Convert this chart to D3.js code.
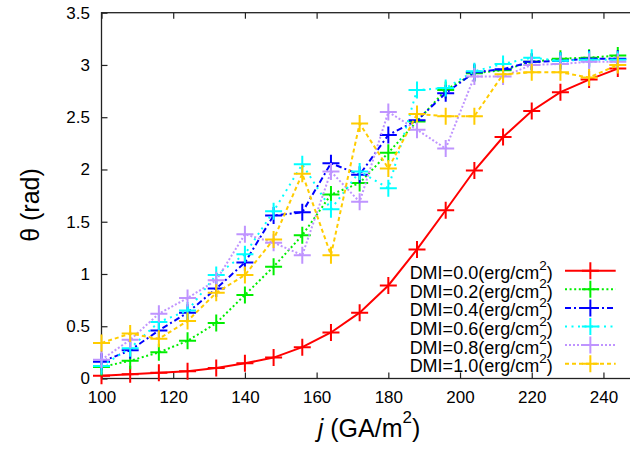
<!DOCTYPE html>
<html>
<head>
<meta charset="utf-8">
<script src="https://cdn.jsdelivr.net/npm/d3@7"></script>
<style>
  html, body { margin: 0; padding: 0; background: #fff; }
  svg { display: block; font-family: "Liberation Sans", Arial, Helvetica, sans-serif; }
</style>
</head>
<body>
<svg id="chart" width="630" height="450"></svg>
<script>
'use strict';

// current density j (GA/m^2)
var jValues = [100, 108, 116, 124, 132, 140, 148, 156, 164, 172, 180, 188, 196, 204, 212, 220, 228, 236, 244];

// theta (rad) for each DMI value
var dmi00 = [0.027, 0.04, 0.055, 0.07, 0.10, 0.145, 0.20, 0.30, 0.44, 0.63, 0.89, 1.235, 1.61, 1.99, 2.31, 2.56, 2.74, 2.86, 2.965];
var dmi02 = [0.11, 0.17, 0.25, 0.36, 0.53, 0.80, 1.07, 1.37, 1.76, 1.87, 2.16, 2.46, 2.76, 2.92, 2.95, 3.03, 3.06, 3.07, 3.09];
var dmi04 = [0.16, 0.27, 0.46, 0.63, 0.86, 1.11, 1.56, 1.59, 2.06, 1.95, 2.33, 2.47, 2.73, 2.93, 2.96, 3.03, 3.04, 3.06, 3.06];
var dmi06 = [0.12, 0.29, 0.54, 0.65, 0.99, 1.19, 1.60, 2.05, 1.62, 1.98, 1.82, 2.76, 2.78, 2.94, 3.01, 3.07, 3.04, 3.05, 3.05];
var dmi08 = [0.18, 0.37, 0.62, 0.77, 0.94, 1.38, 1.30, 1.18, 1.98, 1.69, 2.55, 2.38, 2.20, 2.89, 2.89, 3.00, 3.01, 3.03, 3.03];
var dmi10 = [0.34, 0.43, 0.38, 0.55, 0.82, 0.99, 1.33, 1.96, 1.18, 2.44, 2.01, 2.53, 2.51, 2.51, 2.91, 2.93, 2.93, 2.88, 3.00];

var dmiLabels = ['0.0', '0.2', '0.4', '0.6', '0.8', '1.0'];
var xTicks = [100, 120, 140, 160, 180, 200, 220, 240];
var yTicks = [0, 0.5, 1, 1.5, 2, 2.5, 3, 3.5];

(function() {

  var allSeries = [dmi00, dmi02, dmi04, dmi06, dmi08, dmi10];
  var colors = ['#ff0000', '#00ee00', '#0000ff', '#00ffff', '#bf94ff', '#ffcc00'];
  var dashes = [null, '2,2.6', '6,3,2,3', '2,4.5', '2,2', '4,3'];

  var svg = d3.select('#chart');

  // plot frame (right edge falls outside the picture)
  var pLeft = 101.5, pRight = 639.3, pTop = 12.7, pBottom = 378.5;

  var x = d3.scaleLinear().domain([100, 250]).range([pLeft, pRight]);
  var y = d3.scaleLinear().domain([0, 3.5]).range([pBottom, pTop]);

  var axisColor = '#222';

  var gx = svg.append('g')
    .attr('transform', 'translate(0,' + pBottom + ')')
    .call(d3.axisBottom(x).tickValues(xTicks).tickSize(-6).tickPadding(12.7).tickSizeOuter(0));

  var gxTop = svg.append('g')
    .attr('transform', 'translate(0,' + pTop + ')')
    .call(d3.axisTop(x).tickValues(xTicks).tickSize(-6).tickFormat('').tickSizeOuter(0));

  var gy = svg.append('g')
    .attr('transform', 'translate(' + pLeft + ',0)')
    .call(d3.axisLeft(y).tickValues(yTicks).tickSize(-6).tickPadding(11.5).tickSizeOuter(0)
      .tickFormat(function(d) { return String(d); }));

  [gx, gxTop, gy].forEach(function(g) {
    g.select('.domain').remove();
    g.selectAll('.tick line').attr('stroke', axisColor).attr('stroke-width', 1.2);
    g.selectAll('.tick text')
      .attr('fill', '#000')
      .style('font-size', '17px')
      .style('font-family', '"Liberation Sans", Arial, Helvetica, sans-serif');
  });

  svg.append('rect')
    .attr('x', pLeft).attr('y', pTop)
    .attr('width', pRight - pLeft).attr('height', pBottom - pTop)
    .attr('fill', 'none')
    .attr('stroke', axisColor)
    .attr('stroke-width', 1.3);

  function plusPath(px, py, r) {
    return 'M' + (px - r) + ',' + py + 'H' + (px + r) + 'M' + px + ',' + (py - r) + 'V' + (py + r);
  }

  var line = d3.line()
    .x(function(d, i) { return x(jValues[i]); })
    .y(function(d) { return y(d); });

  allSeries.forEach(function(vals, k) {
    var g = svg.append('g');
    g.append('path')
      .attr('d', line(vals))
      .attr('fill', 'none')
      .attr('stroke', colors[k])
      .attr('stroke-width', 2)
      .attr('stroke-dasharray', dashes[k]);

    g.selectAll('path.pt')
      .data(vals)
      .enter().append('path')
      .attr('class', 'pt')
      .attr('d', function(d, i) { return plusPath(x(jValues[i]), y(d), 8.5); })
      .attr('stroke', colors[k])
      .attr('stroke-width', 2);
  });

  // legend
  var legTextX = 552.7, legLineX0 = 565, legLineX1 = 615.7, legY0 = 270.7, legStep = 18.6;

  dmiLabels.forEach(function(lab, k) {
    var ly = legY0 + k * legStep;
    var t = svg.append('text')
      .attr('x', legTextX)
      .attr('y', ly + 8.5)
      .attr('text-anchor', 'end')
      .style('font-size', '18px')
      .attr('fill', '#000');
    t.append('tspan').text('DMI=' + lab + '(erg/cm');
    t.append('tspan').attr('dy', -9.5).style('font-size', '13.5px').text('2');
    t.append('tspan').attr('dy', 9.5).text(')');

    svg.append('path')
      .attr('d', 'M' + legLineX0 + ',' + ly + 'H' + legLineX1)
      .attr('stroke', colors[k])
      .attr('stroke-width', 2)
      .attr('stroke-dasharray', dashes[k]);
    svg.append('path')
      .attr('d', plusPath((legLineX0 + legLineX1) / 2, ly, 8.5))
      .attr('stroke', colors[k])
      .attr('stroke-width', 2);
  });

  // axis titles
  var xt = svg.append('text')
    .attr('x', 369)
    .attr('y', 437)
    .attr('text-anchor', 'middle')
    .style('font-size', '25px')
    .attr('fill', '#000');
  xt.append('tspan').style('font-style', 'italic').text('j');
  xt.append('tspan').text(' (GA/m');
  xt.append('tspan').attr('dy', -14).style('font-size', '17px').text('2');
  xt.append('tspan').attr('dy', 14).text(')');

  svg.append('text')
    .attr('transform', 'translate(39,205) rotate(-90)')
    .attr('text-anchor', 'middle')
    .style('font-size', '25px')
    .attr('fill', '#000')
    .text('\u03b8 (rad)');

})();
</script>
</body>
</html>
